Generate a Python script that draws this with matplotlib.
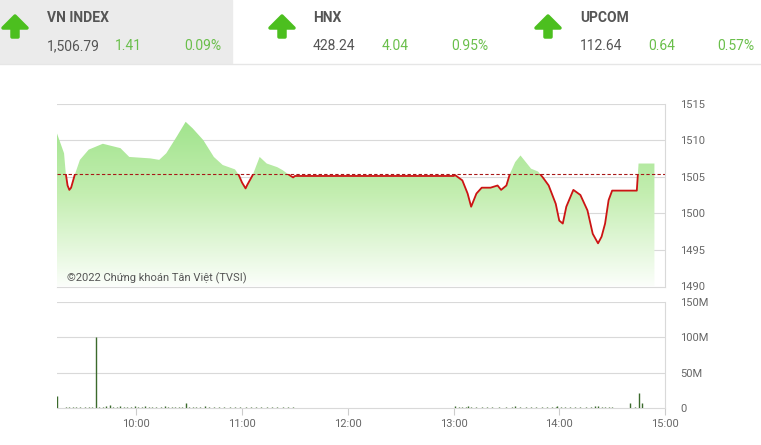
import numpy as np
import matplotlib
matplotlib.use("Agg")
import matplotlib.pyplot as plt
from matplotlib.colors import LinearSegmentedColormap
from matplotlib.patches import Rectangle, Polygon

plt.rcParams['font.family'] = ['Roboto', 'DejaVu Sans']

# ---------- DATA ----------
prev_close = 1505.38

price_times = ["09:15", "09:19", "09:20", "09:21", "09:22", "09:23", "09:25", "09:28", "09:33",
               "09:41", "09:51", "09:56", "10:08", "10:13", "10:17", "10:23", "10:28", "10:32",
               "10:38", "10:44", "10:49", "10:56", "10:58", "11:00", "11:02", "11:03", "11:06",
               "11:10", "11:14", "11:20", "11:23", "11:27", "11:29", "11:30", "13:00", "13:01",
               "13:05", "13:08", "13:10", "13:13", "13:16", "13:21", "13:25", "13:27", "13:30",
               "13:32", "13:35", "13:38", "13:40", "13:44", "13:48", "13:51", "13:54", "13:58",
               "14:00", "14:02", "14:04", "14:08", "14:12", "14:16", "14:19", "14:22", "14:24",
               "14:26", "14:28", "14:30", "14:44", "14:45", "14:54"]
price_values = [1510.9, 1508.2, 1505.4, 1503.8, 1503.2, 1503.5, 1505.2, 1507.3, 1508.7,
                1509.5, 1508.9, 1507.7, 1507.5, 1507.3, 1508.2, 1510.5, 1512.5, 1511.6,
                1510.0, 1507.7, 1506.6, 1506.0, 1505.3, 1504.2, 1503.4, 1503.9, 1505.2,
                1507.7, 1506.8, 1506.3, 1505.9, 1505.2, 1504.9, 1505.1, 1505.1, 1505.2,
                1504.5, 1502.7, 1500.9, 1502.7, 1503.5, 1503.5, 1503.8, 1503.2, 1503.8,
                1505.4, 1507.0, 1507.9, 1507.3, 1506.1, 1505.7, 1504.8, 1503.8, 1501.3,
                1499.0, 1498.6, 1500.9, 1503.2, 1502.5, 1500.4, 1497.2, 1495.9, 1496.8,
                1498.6, 1501.8, 1503.1, 1503.1, 1506.8, 1506.8]

vol_times = ["09:15", "09:20", "09:22", "09:24", "09:26", "09:28", "09:31", "09:33", "09:35",
             "09:37", "09:39", "09:41", "09:43", "09:45", "09:47", "09:49", "09:51", "09:53",
             "09:55", "09:57", "09:59", "10:01", "10:03", "10:05", "10:07", "10:09", "10:11",
             "10:14", "10:16", "10:18", "10:20", "10:22", "10:24", "10:26", "10:28", "10:30",
             "10:32", "10:34", "10:36", "10:39", "10:41", "10:44", "10:47", "10:50", "10:53",
             "10:56", "10:59", "11:02", "11:05", "11:08", "11:11", "11:14", "11:17", "11:20",
             "11:23", "11:26", "11:29",
             "13:01", "13:03", "13:05", "13:07", "13:08", "13:10", "13:13", "13:16", "13:19",
             "13:22", "13:26", "13:30", "13:33", "13:35", "13:38", "13:41", "13:44", "13:47",
             "13:50", "13:53", "13:56", "13:58", "13:59", "14:01", "14:03", "14:06", "14:09",
             "14:12", "14:15", "14:18", "14:20", "14:22", "14:24", "14:26", "14:28", "14:30",
             "14:40", "14:43", "14:45", "14:47"]
vol_values = [17.0, 1.0, 1.5, 0.8, 1.2, 2.0, 1.0, 1.4, 0.9,
              100.0, 1.8, 1.2, 2.2, 4.0, 1.5, 1.0, 2.5, 1.3,
              1.9, 1.0, 2.4, 1.6, 0.9, 2.8, 1.2, 2.0, 1.1,
              1.7, 2.6, 1.0, 1.4, 0.8, 2.1, 1.5, 7.5, 1.0,
              1.3, 1.8, 0.9, 2.2, 1.1, 1.6, 0.8, 1.9, 1.2,
              2.0, 1.0, 1.4, 0.9, 1.7, 1.1, 1.3, 0.8, 1.5,
              1.0, 1.2, 0.8,
              3.0, 1.2, 2.0, 1.0, 3.5, 1.4, 1.0, 1.2, 0.9,
              1.5, 1.0, 1.8, 1.2, 2.2, 1.0, 1.4, 1.1, 1.6,
              1.2, 2.0, 1.3, 1.9, 3.0, 1.4, 1.8, 1.1, 1.0,
              1.5, 1.3, 1.9, 2.2, 2.6, 1.4, 1.7, 1.0, 1.2,
              6.6, 1.5, 21.6, 6.6]

price_ticks = [1490, 1495, 1500, 1505, 1510, 1515]
vol_ticks = [0, 50, 100, 150]
vol_tick_labels = ["0", "50M", "100M", "150M"]
time_ticks = ["10:00", "11:00", "12:00", "13:00", "14:00", "15:00"]

header_names = ["VN INDEX", "HNX", "UPCOM"]
header_values = ["1,506.79", "428.24", "112.64"]
header_changes = ["1.41", "4.04", "0.64"]
header_pcts = ["0.09%", "0.95%", "0.57%"]


def to_hours(s):
    h, m = s.split(":")
    return int(h) + int(m) / 60.0


pt = np.array([to_hours(s) for s in price_times])
pv = np.array(price_values)
vt = np.array([to_hours(s) for s in vol_times])
vv = np.array(vol_values)

# ---------- FIGURE ----------
W, H = 761, 445
fig = plt.figure(figsize=(W / 100, H / 100), dpi=100)
fig.patch.set_facecolor("white")

grid_c = "#d9d9d9"
label_c = "#666666"
x0, x1 = 9.25, 15.0

# header (pixel coordinates)
hdr = fig.add_axes([0, 0, 1, 1])
hdr.set_xlim(0, W)
hdr.set_ylim(H, 0)
hdr.axis("off")
hdr.add_patch(Rectangle((0, 0), 232, 63, color="#ebebeb", zorder=0))
hdr.plot([0, W], [63.5, 63.5], color="#e6e6e6", lw=1)

green_txt = "#6abf4b"
arrow_c = "#4cbf1f"
cols = [(15, 47, 115, 184), (282, 313, 382, 451), (548, 580, 648, 717)]
for i, (ax_c, xn, xc, xp) in enumerate(cols):
    arr = [(ax_c, 16), (ax_c + 12, 28), (ax_c + 3, 28), (ax_c + 3, 37),
           (ax_c - 3, 37), (ax_c - 3, 28), (ax_c - 12, 28)]
    hdr.add_patch(Polygon(arr, closed=True, facecolor=arrow_c, edgecolor=arrow_c,
                          lw=2.5, joinstyle="round", zorder=2))
    hdr.text(xn, 18, header_names[i], fontsize=10, fontweight="bold",
             color="#555555", va="center", ha="left")
    hdr.text(xn, 46, header_values[i], fontsize=10, color="#555555", va="center", ha="left")
    hdr.text(xc, 46, header_changes[i], fontsize=10, color=green_txt, va="center", ha="left")
    hdr.text(xp, 46, header_pcts[i], fontsize=10, color=green_txt, va="center", ha="left")

# ---------- PRICE PANEL ----------
left = 57 / W
width = 608 / W
ax = fig.add_axes([left, 1 - 286.5 / H, width, 183 / H])
ax.set_xlim(x0, x1)
ax.set_ylim(1490, 1515)

fill = ax.fill_between(pt, pv, 1490, color="none", lw=0)
cmap = LinearSegmentedColormap.from_list("g", ["#fbfefa", "#c4eeb1", "#98e184"])
grad = np.linspace(0, 1, 256).reshape(-1, 1)
im = ax.imshow(grad, extent=[x0, x1, 1490, 1515], origin="lower", aspect="auto",
               cmap=cmap, zorder=1)
im.set_clip_path(fill.get_paths()[0], transform=ax.transData)

line, = ax.plot(pt, pv, color="#cc1414", lw=1.3, zorder=3, solid_joinstyle="round")
clip = Rectangle((x0, 1490), x1 - x0, prev_close - 1490, transform=ax.transData)
line.set_clip_path(clip)
ax.axhline(prev_close, color="#a81818", lw=0.8, ls=(0, (3, 2)), zorder=4)

for y in price_ticks[1:]:
    ax.axhline(y, color=grid_c, lw=0.8, zorder=0)
ax.set_yticks(price_ticks)
ax.yaxis.tick_right()
ax.tick_params(axis="y", length=0, pad=11, labelsize=8, labelcolor=label_c)
ax.set_xticks([])
for s in ["top", "left"]:
    ax.spines[s].set_visible(False)
ax.spines["right"].set_color(grid_c)
ax.spines["bottom"].set_color(grid_c)
ax.text(0.016, 0.046, "©2022 Chứng khoán Tân Việt (TVSI)", transform=ax.transAxes,
        fontsize=8, color="#555555", va="center", ha="left", zorder=5)

# ---------- VOLUME PANEL ----------
bx = fig.add_axes([left, 1 - 408 / H, width, 106 / H])
bx.set_xlim(x0, x1)
bx.set_ylim(0, 150)
for y in vol_ticks[1:]:
    bx.axhline(y, color=grid_c, lw=0.8, zorder=0)
bx.vlines(vt, 0, vv, color="#3b6a2c", lw=1.0, zorder=3)
bx.set_yticks(vol_ticks)
bx.set_yticklabels(vol_tick_labels)
bx.yaxis.tick_right()
bx.tick_params(axis="y", length=0, pad=11, labelsize=8, labelcolor=label_c)
bx.set_xticks([to_hours(s) for s in time_ticks])
bx.set_xticklabels(time_ticks)
bx.tick_params(axis="x", length=5, color="#cccccc", pad=3, labelsize=8, labelcolor=label_c)
for s in ["top", "left"]:
    bx.spines[s].set_visible(False)
bx.spines["right"].set_color(grid_c)
bx.spines["bottom"].set_color(grid_c)

fig.savefig("out.png", dpi=100)
